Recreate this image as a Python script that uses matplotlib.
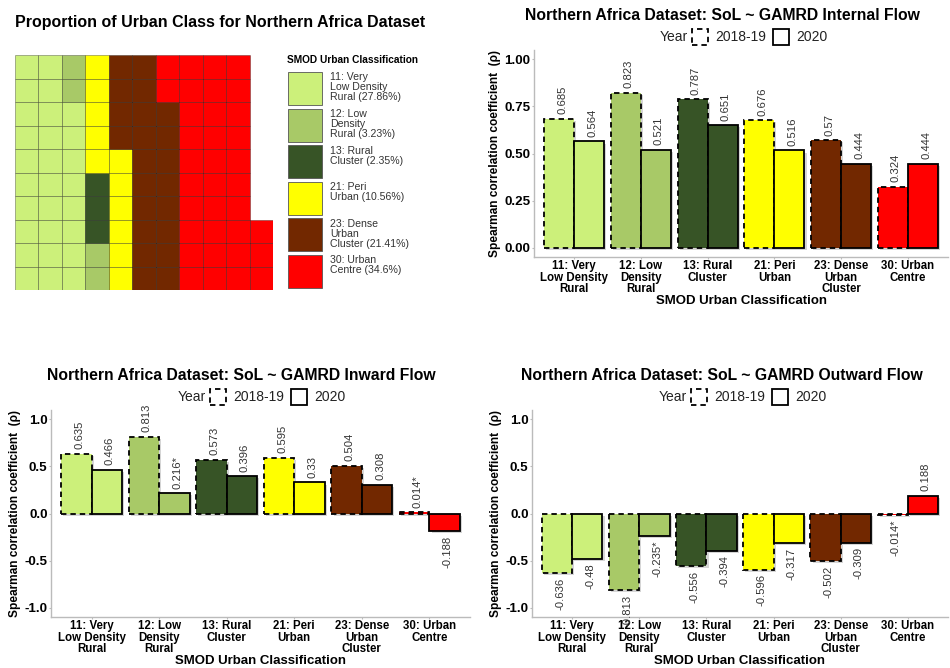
import numpy as np
import matplotlib
matplotlib.use("Agg")
import matplotlib.pyplot as plt
from matplotlib.patches import Rectangle
import matplotlib.patheffects as pe

plt.rcParams["font.family"] = ["Liberation Sans", "DejaVu Sans"]

W, H = 950, 668

# class names and palette
classes = ["11: Very\nLow Density\nRural", "12: Low\nDensity\nRural", "13: Rural\nCluster",
           "21: Peri\nUrban", "23: Dense\nUrban\nCluster", "30: Urban\nCentre"]
legend_labels = ["11: Very\nLow Density\nRural (27.86%)", "12: Low\nDensity\nRural (3.23%)",
                 "13: Rural\nCluster (2.35%)", "21: Peri\nUrban (10.56%)",
                 "23: Dense\nUrban\nCluster (21.41%)", "30: Urban\nCentre (34.6%)"]
palette = ["#CCF07A", "#A8C967", "#375426", "#FFFF00", "#722800", "#FF0000"]

# waffle cells per class (10 rows, filled column-wise from bottom)
waffle_counts = [28, 4, 3, 11, 22, 35]
n_rows = 10

# Spearman rho per class
internal_1819 = [0.685, 0.823, 0.787, 0.676, 0.57, 0.324]
internal_2020 = [0.564, 0.521, 0.651, 0.516, 0.444, 0.444]
inward_1819 = [0.635, 0.813, 0.573, 0.595, 0.504, 0.014]
inward_2020 = [0.466, 0.216, 0.396, 0.33, 0.308, -0.188]
outward_1819 = [-0.636, -0.813, -0.556, -0.596, -0.502, -0.014]
outward_2020 = [-0.48, -0.235, -0.394, -0.317, -0.309, 0.188]
inward_lab_1819 = ["0.635", "0.813", "0.573", "0.595", "0.504", "0.014*"]
inward_lab_2020 = ["0.466", "0.216*", "0.396", "0.33", "0.308", "-0.188"]
outward_lab_1819 = ["-0.636", "-0.813", "-0.556", "-0.596", "-0.502", "-0.014*"]
outward_lab_2020 = ["-0.48", "-0.235*", "-0.394", "-0.317", "-0.309", "0.188"]

DASH = (0, (3.0, 2.2))
AXIS_GREY = "#BBBBBB"


def px_rect(left, top, right, bottom):
    return [left / W, 1 - bottom / H, (right - left) / W, (bottom - top) / H]


fig = plt.figure(figsize=(W / 100, H / 100), dpi=100)

# ------------------------------------------------------------------
# waffle
# ------------------------------------------------------------------
axw = fig.add_axes(px_rect(15, 55, 273, 290))
k = 0
for cnt, col in zip(waffle_counts, palette):
    for _ in range(cnt):
        c, r = divmod(k, n_rows)
        axw.add_patch(Rectangle((c, r), 1, 1, facecolor=col, edgecolor=(0, 0, 0, 0.35), lw=0.6))
        k += 1
axw.set_xlim(0, int(np.ceil(k / n_rows)))
axw.set_ylim(0, n_rows)
axw.axis("off")
fig.text(15 / W, 1 - 22 / H, "Proportion of Urban Class for Northern Africa Dataset",
         fontsize=11.5, fontweight="bold", va="center", ha="left")

# legend for the waffle
fig.text(287 / W, 1 - 60 / H, "SMOD Urban Classification", fontsize=7.3,
         fontweight="bold", va="center", ha="left")
for i, (lab, col) in enumerate(zip(legend_labels, palette)):
    top = 72 + i * 36.6
    fig.add_artist(Rectangle((288 / W, 1 - (top + 33) / H), 34 / W, 33 / H,
                             facecolor=col, edgecolor="#555555", lw=0.6,
                             transform=fig.transFigure))
    fig.text(330 / W, 1 - (top + 0.5) / H, lab, fontsize=7.6, color="#333333",
             va="top", ha="left", linespacing=1.0)


def year_legend(x, y):
    # "Year [- -] 2018-19 [__] 2020" row above a panel (pixel coords)
    fig.text(x / W, 1 - y / H, "Year", fontsize=10, va="center", ha="left", color="#222222")
    fig.add_artist(Rectangle(((x + 32) / W, 1 - (y + 8) / H), 16 / W, 16 / H,
                             facecolor="white", edgecolor="black", lw=1.3, linestyle=DASH,
                             transform=fig.transFigure))
    fig.text((x + 55) / W, 1 - y / H, "2018-19", fontsize=10, va="center", ha="left", color="#222222")
    fig.add_artist(Rectangle(((x + 113) / W, 1 - (y + 8) / H), 16 / W, 16 / H,
                             facecolor="white", edgecolor="black", lw=1.3,
                             transform=fig.transFigure))
    fig.text((x + 136) / W, 1 - y / H, "2020", fontsize=10, va="center", ha="left", color="#222222")


def bar_panel(rect, title, title_xy, v1, v2, l1, l2, ylim, yticks, yticklabels):
    ax = fig.add_axes(rect)
    x = np.arange(len(classes))
    shadow = [pe.SimplePatchShadow(offset=(1.5, -1.5), shadow_rgbFace="#888888", alpha=0.35), pe.Normal()]
    b1 = ax.bar(x - 0.225, v1, width=0.45, color=palette, edgecolor="black", lw=1.3, linestyle=DASH)
    b2 = ax.bar(x + 0.225, v2, width=0.45, color=palette, edgecolor="black", lw=1.3)
    for bb in list(b1) + list(b2):
        bb.set_path_effects(shadow)
    for xs, vals, labs in [(x - 0.225, v1, l1), (x + 0.225, v2, l2)]:
        for xi, v, s in zip(xs, vals, labs):
            off = 3.3 if v >= 0 else -3.3
            t = ax.annotate(s, (xi, v), xytext=(2.2, off), textcoords="offset points",
                            rotation=90, ha="center", va="bottom" if v >= 0 else "top",
                            fontsize=8.1, color="#333333")
            t.set_clip_on(True)
    ax.set_xlim(-0.6, len(classes) - 0.4)
    ax.set_ylim(*ylim)
    ax.set_yticks(yticks)
    ax.set_yticklabels(yticklabels, fontweight="bold", fontsize=9.6)
    ax.set_xticks(x)
    ax.set_xticklabels(classes, fontweight="bold", fontsize=8.3, linespacing=0.92)
    ax.set_xlabel("SMOD Urban Classification", fontweight="bold", fontsize=9.5, labelpad=0)
    ax.set_ylabel("Spearman correlation coefficient  (\u03c1)", fontweight="bold", fontsize=8.6, labelpad=2.5)
    for sp in ["top", "right"]:
        ax.spines[sp].set_visible(False)
    for sp in ["left", "bottom"]:
        ax.spines[sp].set_color(AXIS_GREY)
        ax.spines[sp].set_linewidth(1.0)
    ax.tick_params(length=1.5, width=0.8, color=AXIS_GREY, pad=1)
    fig.text(title_xy[0] / W, 1 - title_xy[1] / H, title, fontsize=11.3,
             fontweight="bold", ha="center", va="center")
    return ax


bar_panel(px_rect(534, 50, 948, 257), "Northern Africa Dataset: SoL ~ GAMRD Internal Flow", (722, 15),
          internal_1819, internal_2020,
          [f"{v:g}" for v in internal_1819], [f"{v:g}" for v in internal_2020],
          (-0.05, 1.05), [0, 0.25, 0.5, 0.75, 1.0], ["0.00", "0.25", "0.50", "0.75", "1.00"])
year_legend(660, 37)

tick_1 = [-1.0, -0.5, 0.0, 0.5, 1.0]
tick_1_lab = ["-1.0", "-0.5", "0.0", "0.5", "1.0"]
bar_panel(px_rect(51, 410, 470, 617), "Northern Africa Dataset: SoL ~ GAMRD Inward Flow", (241, 376),
          inward_1819, inward_2020, inward_lab_1819, inward_lab_2020,
          (-1.1, 1.1), tick_1, tick_1_lab)
year_legend(178, 397)

bar_panel(px_rect(532, 410, 948, 617), "Northern Africa Dataset: SoL ~ GAMRD Outward Flow", (722, 376),
          outward_1819, outward_2020, outward_lab_1819, outward_lab_2020,
          (-1.1, 1.1), tick_1, tick_1_lab)
year_legend(659, 397)

fig.savefig("out.png", dpi=100)
